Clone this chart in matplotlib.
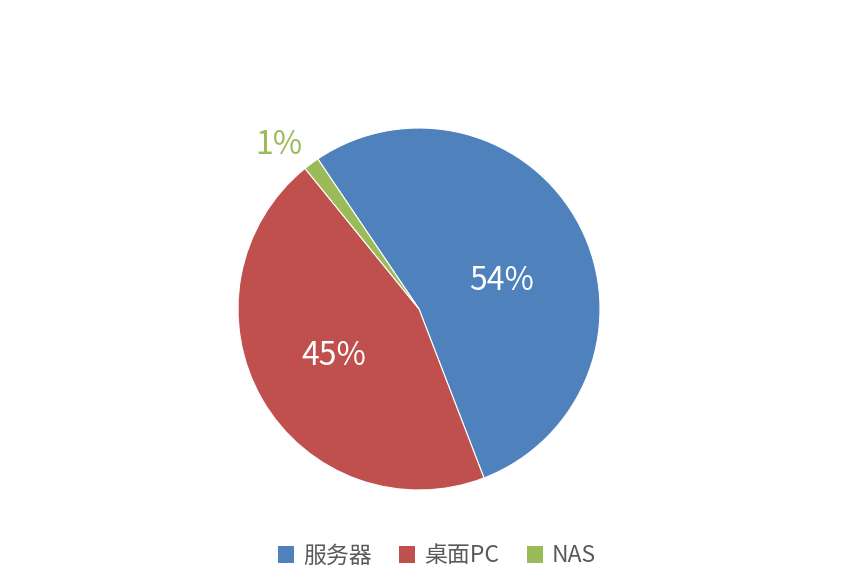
import numpy as np
import matplotlib.pyplot as plt
from matplotlib.patches import Patch

plt.rcParams['font.family'] = ['Noto Sans CJK SC', 'DejaVu Sans']

categories = ['服务器', '桌面PC', 'NAS']
shares = [53.6, 45.0, 1.4]
labels = ['54%', '45%', '1%']
colors = ['#4F81BD', '#C0504D', '#9BBB59']

W, H = 854, 580
fig = plt.figure(figsize=(W / 100, H / 100), dpi=100)
cx, cy, r = 419, 309, 181
ax = fig.add_axes([(cx - r) / W, (H - cy - r) / H, 2 * r / W, 2 * r / H])

wedges, _ = ax.pie(shares, colors=colors, startangle=124, counterclock=False,
                   radius=1, wedgeprops=dict(linewidth=0.8, edgecolor='white'))
ax.set_xlim(-1, 1)
ax.set_ylim(-1, 1)
ax.set_aspect('equal')
ax.axis('off')

# labels: inside for large slices, outside for small
dists = [0.48, 0.54, 1.19]
shift = [-9, -1, 4]  # degrees off the slice middle
tcolors = ['white', 'white', colors[2]]
for w, lab, d, s, tc in zip(wedges, labels, dists, shift, tcolors):
    ang = np.deg2rad((w.theta1 + w.theta2) / 2 + s)
    ax.text(d * np.cos(ang), d * np.sin(ang), lab, ha='center', va='center',
            fontsize=23, color=tc, clip_on=False)

handles = [Patch(facecolor=c, edgecolor='none') for c in colors]
fig.legend(handles, categories, loc='center', bbox_to_anchor=(437 / W, 1 - 556 / H),
           ncol=3, frameon=False, fontsize=16.5, labelcolor='#595959',
           handlelength=0.7, handleheight=0.7, handletextpad=0.4, columnspacing=1.2)

fig.savefig('out.png', dpi=100)
